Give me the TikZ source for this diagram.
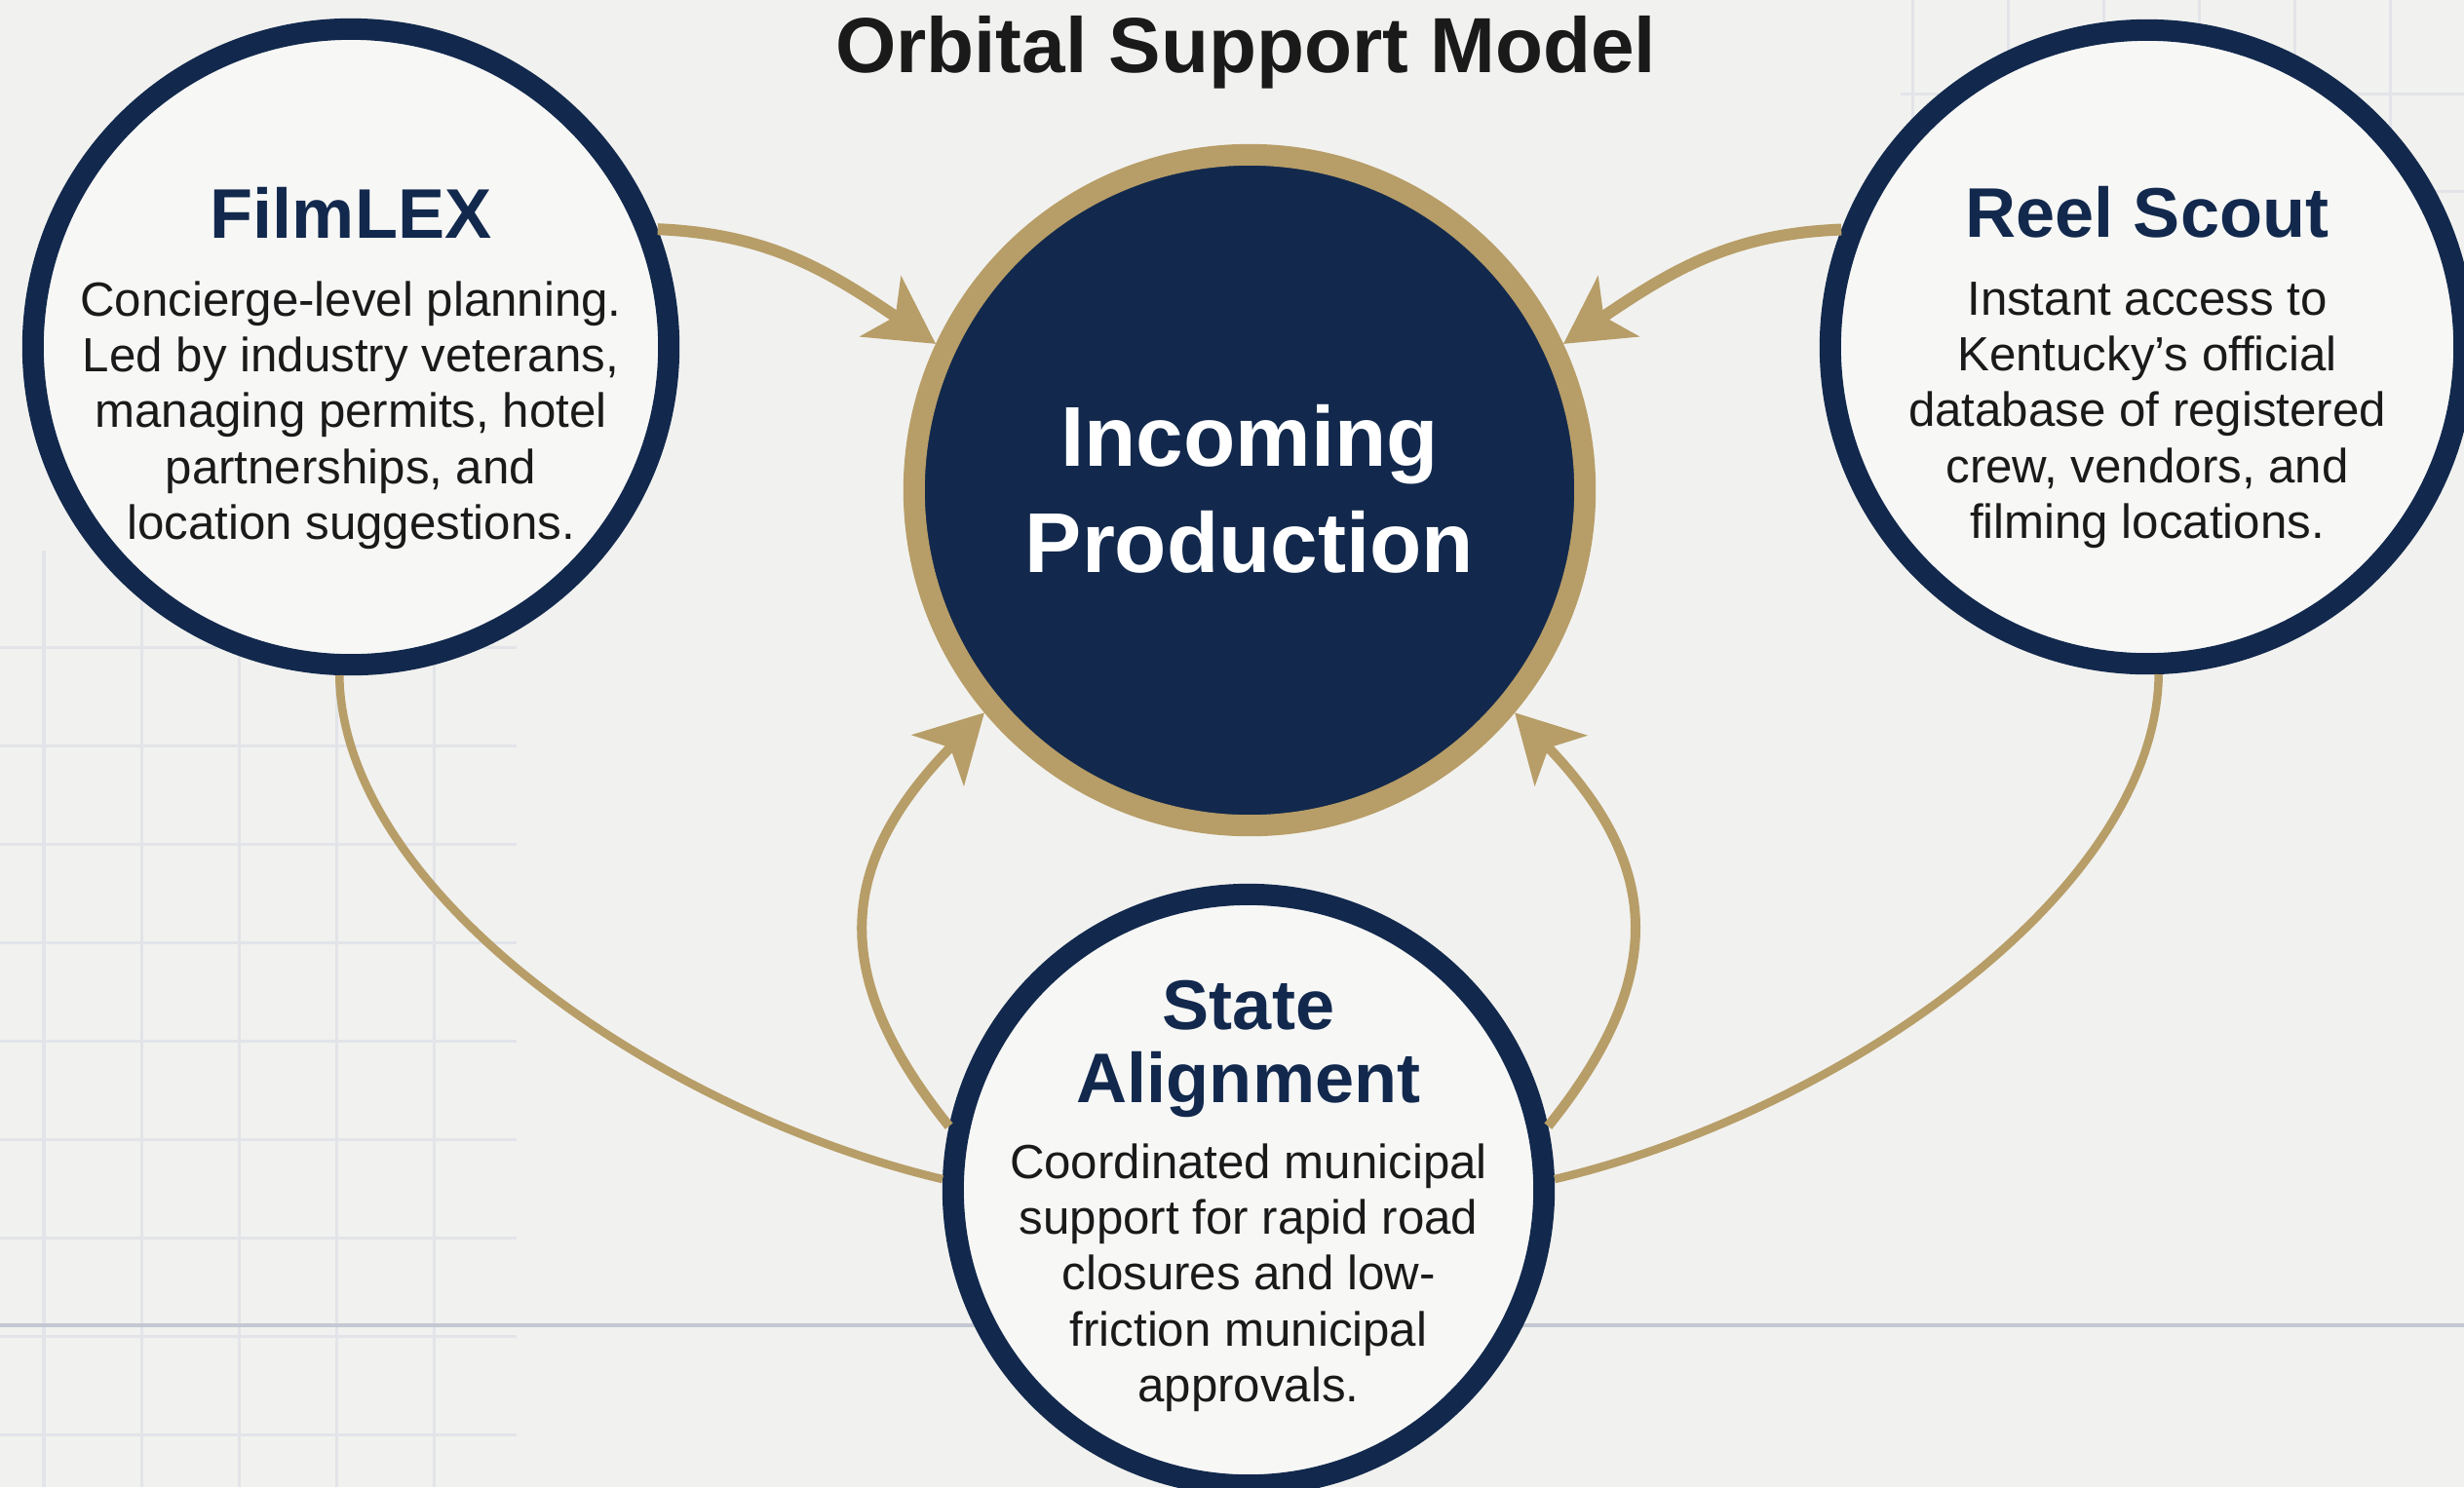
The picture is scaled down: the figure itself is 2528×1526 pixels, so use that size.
\documentclass[tikz,border=0pt]{standalone}
\usepackage{fontspec}
\setmainfont{Liberation Sans}
\usepackage{xcolor}
\usepackage{tikz}
\usetikzlibrary{positioning,calc}
\usetikzlibrary{arrows.meta}

\definecolor{navy}{RGB}{18,41,77}
\definecolor{gold}{RGB}{183,157,103}
\definecolor{paper}{RGB}{241,241,239}
\definecolor{inside}{RGB}{247,247,246}
\definecolor{gridline}{RGB}{226,228,233}
\definecolor{rule}{RGB}{196,200,210}
\definecolor{ink}{RGB}{26,26,26}

\begin{document}
\begin{tikzpicture}[x=0.01cm,y=-0.01cm,
  orbit/.style={circle,draw=navy,line width=0.22cm,fill=inside,inner sep=0pt},
  core/.style={circle,draw=gold,line width=0.22cm,fill=navy,inner sep=0pt,minimum size=6.88cm},
  heading/.style={text=navy,font=\bfseries\fontsize{20.5}{21.3}\selectfont,align=center,inner sep=0pt},
  blurb/.style={text=ink,font=\fontsize{14}{16.3}\selectfont,align=center,inner sep=0pt},
  flow/.style={draw=gold,line width=0.1cm,-{Stealth[length=0.68cm,width=0.74cm,inset=0.18cm]}},
  link/.style={draw=gold,line width=0.085cm}]
    \useasboundingbox (0,0) rectangle (2528,1526);
    \clip (0,0) rectangle (2528,1526);
    \fill[paper] (0,0) rectangle (2528,1526);
    % faint grid
    \foreach \x in {45,145,...,445} \draw[gridline,line width=0.03cm] (\x,565) -- (\x,1526);
    \foreach \y in {664,765,...,1526} \draw[gridline,line width=0.03cm] (0,\y) -- (530,\y);
    \foreach \x in {1962,2060,...,2528} \draw[gridline,line width=0.03cm] (\x,0) -- (\x,200);
    \foreach \y in {96,196} \draw[gridline,line width=0.03cm] (1950,\y) -- (2528,\y);
    \draw[rule,line width=0.035cm] (0,1360) -- (2528,1360);

    \node[orbit,minimum size=6.52cm] (film) at (360,356) {};
    \node[orbit,minimum size=6.50cm] (reel) at (2203,356) {};
    \node[orbit,minimum size=6.06cm] (state) at (1281,1221) {};
    \node[core] (hub) at (1282,503) {};

    \draw[flow,line width=0.12cm] (film.21) .. controls (787,240) and (847,276) .. (hub.155);
    \draw[flow,line width=0.12cm] (reel.159) .. controls (1777,240) and (1717,276) .. (hub.25);
    \draw[flow] (state.168) .. controls (846,997) and (862,883) .. (hub.220);
    \draw[flow] (state.12) .. controls (1716,997) and (1700,883) .. (hub.-40);
    \draw[link] (film.-92) .. controls (351,916) and (676,1141) .. (state.178);
    \draw[link] (reel.-88) .. controls (2212,916) and (1887,1141) .. (state.2);

    \node[font=\bfseries\fontsize{22.8}{27}\selectfont,text=ink,anchor=base] (title) at (1278,74) {Orbital Support Model};

    \node[text=white,font=\bfseries\fontsize{24.8}{31}\selectfont,align=center,inner sep=0pt] (hub_text) at ($(hub)+(0,-1)$) {Incoming\\Production};

    \node[heading] (film_name) at ($(film)+(0,-138)$) {FilmLEX};
    \node[blurb] (film_text) at ($(film)+(0,70)$) {Concierge-level planning.\\Led by industry veterans,\\managing permits, hotel\\partnerships, and\\location suggestions.};

    \node[heading] (reel_name) at ($(reel)+(0,-138)$) {Reel Scout};
    \node[blurb] (reel_text) at ($(reel)+(0,70)$) {Instant access to\\Kentucky's official\\database of registered\\crew, vendors, and\\filming locations.};

    \node[heading] (state_name) at ($(state)+(0,-145)$) {State\\Alignment};
    \node[blurb] (state_text) at ($(state)+(0,90)$) {Coordinated municipal\\support for rapid road\\closures and low-\\friction municipal\\approvals.};
\end{tikzpicture}
\end{document}
